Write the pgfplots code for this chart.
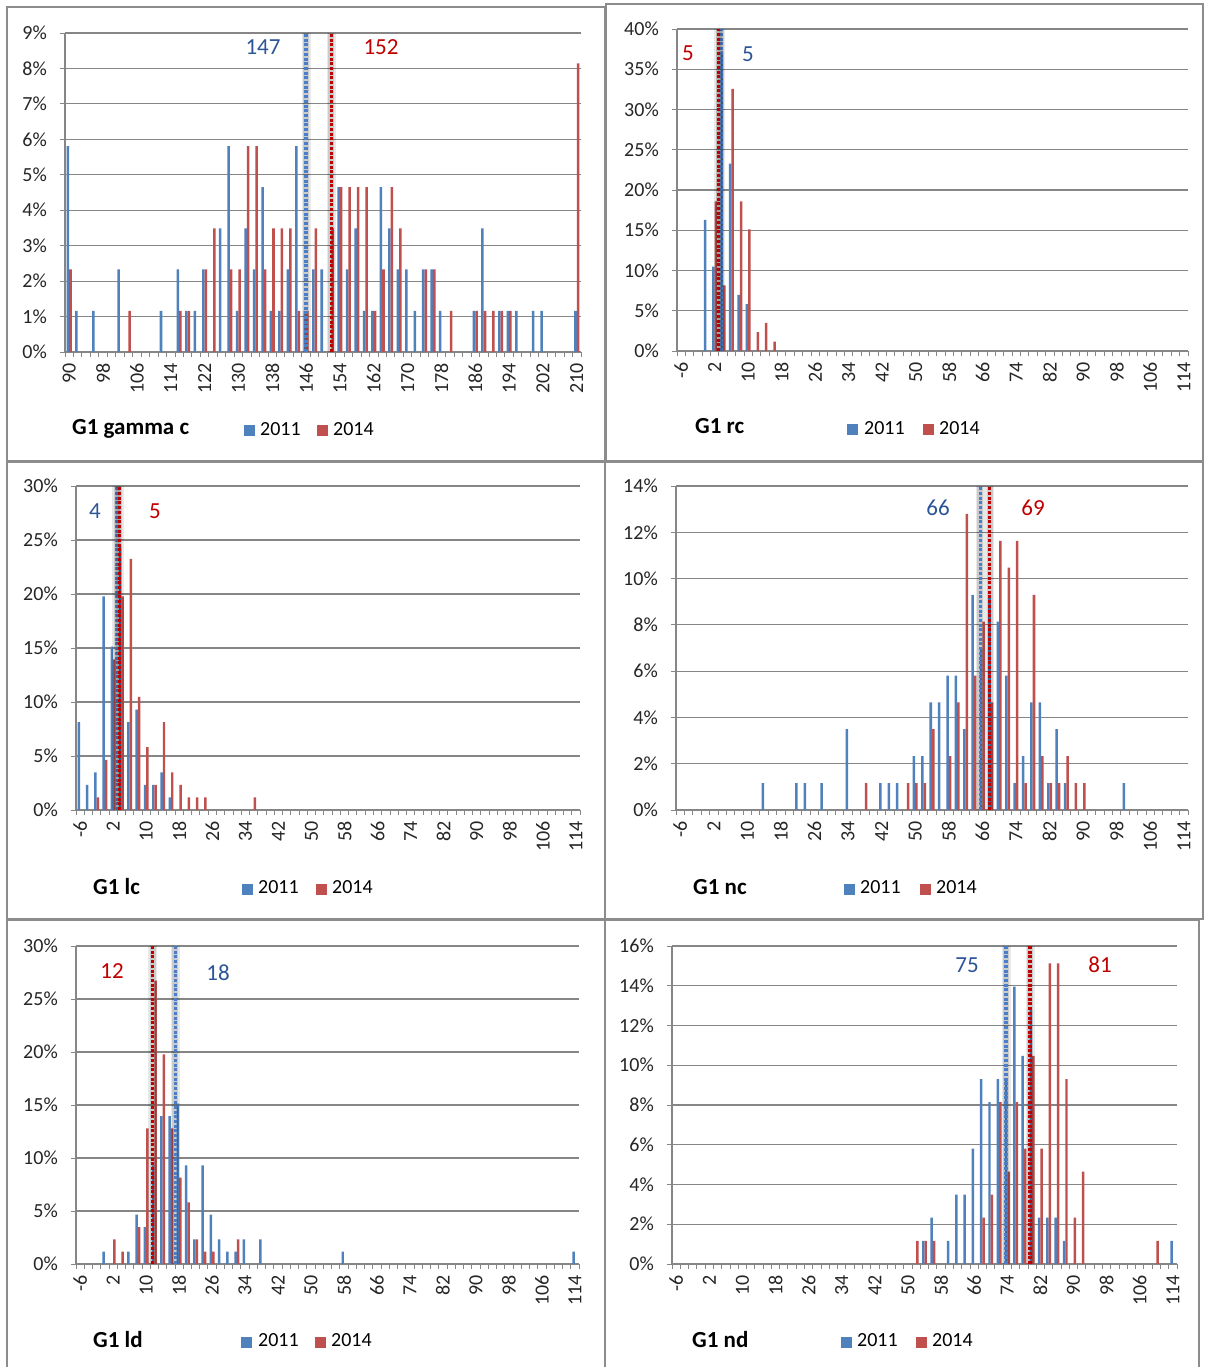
\documentclass[border=0pt]{standalone}
\usepackage{pgfplots}
\pgfplotsset{compat=1.18}
\usepackage{fontspec}
\setmainfont{Carlito}

\definecolor{s2011}{HTML}{4F81BD}
\definecolor{s2014}{HTML}{C0504D}
\definecolor{med2011}{HTML}{2C5597}
\definecolor{med2014}{HTML}{C00000}
\definecolor{dot2011}{HTML}{4A7EC8}
\definecolor{dot2014}{HTML}{C00000}
\definecolor{gridgrey}{HTML}{868686}
\definecolor{framegrey}{HTML}{8C8C8C}
\definecolor{labeltext}{HTML}{262626}

\newcommand\tickfont{\fontsize{20}{24}\selectfont}
\newcommand\titlefont{\fontsize{23}{27}\selectfont\bfseries}
\newcommand\medfont{\fontsize{23}{27}\selectfont}

\pgfplotsset{
  panel/.style={
    scale only axis,
    anchor=south west,
    axis x line*=bottom,
    axis y line*=left,
    axis line style={-, draw=gridgrey, line width=1.1pt},
    ymin=0,
    ymajorgrids,
    grid style={draw=gridgrey, line width=1.1pt},
    tick align=outside,
    major tick length=0pt,
    minor tick length=5pt,
    minor tick style={draw=gridgrey, line width=0.9pt},
    xticklabel style={rotate=90, anchor=east, inner sep=0pt, font=\tickfont, text=labeltext},
    yticklabel style={anchor=east, inner sep=0pt, font=\tickfont, text=labeltext},
    xticklabel shift=11pt,
    yticklabel shift=18pt,
    yticklabel={\pgfmathprintnumber{\tick}\%},
    /pgf/number format/assume math mode=true,
  },
  catx/.style={xmin=-7, xmax=115, xtick={-6,2,...,114}, minor xtick={-7,-5,...,115}},
  b11/.style={ybar, bar width=0.6, bar shift=-0.3, fill=s2011, draw=none},
  b14/.style={ybar, bar width=0.6, bar shift=0.3, fill=s2014, draw=none},
  medglow/.style={draw=black, opacity=0.09, line width=9pt},
  medglowin/.style={draw=black, opacity=0.12, line width=6pt},
  med11/.style={dot2011, line width=3.5pt, dash pattern=on 3pt off 1.7pt},
  med14/.style={dot2014, line width=3.5pt, dash pattern=on 3pt off 1.7pt},
}
% median marker: soft shadow under a dotted rule
\newcommand\medline[3]{%
  \addplot[medglow] coordinates {(#1,0) (#1,#2)};
  \addplot[medglowin] coordinates {(#1,0) (#1,#2)};
  \addplot[#3] coordinates {(#1,0) (#1,#2)};
}

\begin{document}
\begin{tikzpicture}[x=1pt,y=1pt]
\fill[white] (0,0) rectangle (1205,1367);

% chart frames
\begin{scope}[draw=framegrey, line width=2.5pt]
  \draw (7,1360) rectangle (605,906);
  \draw (606,1363) rectangle (1203,906);
  \draw (7,905) rectangle (605,448);
  \draw (605,905) rectangle (1203,448);
  \draw (7,447) rectangle (605,-5);
  \draw (605,447) rectangle (1199,-5);
\end{scope}

% ---------------- G1 gamma c ----------------
\begin{axis}[panel, at={(65pt,1015pt)}, width=516pt, height=319pt,
  xmin=89, xmax=211, xtick={90,98,...,210}, minor xtick={89,91,...,211},
  ymax=9, ytick={0,1,...,9}, minor ytick={0,1,...,9}]
\addplot[b11] coordinates {(90,5.81) (92,1.16) (96,1.16) (102,2.33) (112,1.16) (116,2.33) (118,1.16) (120,1.16) (122,2.33) (126,3.49) (128,5.81) (130,1.16) (132,3.49) (134,2.33) (136,4.65) (138,1.16) (140,1.16) (142,2.33) (144,5.81) (146,1.16) (148,2.33) (150,2.33) (154,4.65) (156,2.33) (158,3.49) (160,1.16) (162,1.16) (164,4.65) (166,3.49) (168,2.33) (170,2.33) (172,1.16) (174,2.33) (176,2.33) (178,1.16) (186,1.16) (188,3.49) (192,1.16) (194,1.16) (196,1.16) (200,1.16) (202,1.16) (210,1.16)};
\addplot[b14] coordinates {(90,2.33) (104,1.16) (116,1.16) (118,1.16) (122,2.33) (124,3.49) (128,2.33) (130,2.33) (132,5.81) (134,5.81) (136,2.33) (138,3.49) (140,3.49) (142,3.49) (144,1.16) (146,1.16) (148,3.49) (152,3.49) (154,4.65) (156,4.65) (158,4.65) (160,4.65) (162,1.16) (164,2.33) (166,4.65) (168,3.49) (174,2.33) (176,2.33) (180,1.16) (186,1.16) (188,1.16) (190,1.16) (192,1.16) (194,1.16) (210,8.14)};
\medline{146}{9}{med11}
\medline{152}{9}{med14}
\end{axis}
\node[font=\medfont, text=med2011] at (263,1320) {147};
\node[font=\medfont, text=med2014] at (381,1320) {152};
\node[anchor=base west, font=\titlefont, inner sep=0pt] at (72,932) {G1 gamma c};
\fill[s2011] (244,931) rectangle (255,942);
\node[anchor=base west, font=\tickfont, inner sep=0pt] at (260,931) {2011};
\fill[s2014] (317,931) rectangle (328,942);
\node[anchor=base west, font=\tickfont, inner sep=0pt] at (333,931) {2014};

% ---------------- G1 rc ----------------
\begin{axis}[panel, catx, at={(677pt,1016pt)}, width=511pt, height=322pt,
  ymax=40, ytick={0,5,...,40}, minor ytick={0,5,...,40}]
\addplot[b11] coordinates {(0,16.28) (2,10.47) (4,37.21) (6,23.26) (8,6.98) (10,5.81)};
\addplot[b14] coordinates {(2,18.60) (4,8.14) (6,32.56) (8,18.60) (10,15.12) (12,2.33) (14,3.49) (16,1.16)};
\medline{3.45}{40}{med11}
\medline{2.95}{40}{med14}
\end{axis}
\node[font=\medfont, text=med2014] at (688,1314) {5};
\node[font=\medfont, text=med2011] at (748,1313) {5};
\node[anchor=base west, font=\titlefont, inner sep=0pt] at (695,933) {G1 rc};
\fill[s2011] (847,932) rectangle (858,943);
\node[anchor=base west, font=\tickfont, inner sep=0pt] at (864,932) {2011};
\fill[s2014] (923,932) rectangle (934,943);
\node[anchor=base west, font=\tickfont, inner sep=0pt] at (939,932) {2014};

% ---------------- G1 lc ----------------
\begin{axis}[panel, catx, at={(76pt,557pt)}, width=504pt, height=324pt,
  ymax=30, ytick={0,5,...,30}, minor ytick={0,5,...,30}]
\addplot[b11] coordinates {(-6,8.14) (-4,2.33) (-2,3.49) (0,19.77) (2,15.12) (4,24.42) (6,8.14) (8,9.30) (10,2.33) (12,2.33) (14,3.49) (16,1.16)};
\addplot[b14] coordinates {(-2,1.16) (0,4.65) (2,13.95) (4,19.77) (6,23.26) (8,10.47) (10,5.81) (12,2.33) (14,8.14) (16,3.49) (18,2.33) (20,1.16) (22,1.16) (24,1.16) (36,1.16)};
\medline{2.85}{30}{med11}
\medline{3.5}{30}{med14}
\end{axis}
\node[font=\medfont, text=med2011] at (95,856) {4};
\node[font=\medfont, text=med2014] at (155,856) {5};
\node[anchor=base west, font=\titlefont, inner sep=0pt] at (93,472) {G1 lc};
\fill[s2011] (242,472) rectangle (253,483);
\node[anchor=base west, font=\tickfont, inner sep=0pt] at (258,473) {2011};
\fill[s2014] (316,472) rectangle (327,483);
\node[anchor=base west, font=\tickfont, inner sep=0pt] at (332,473) {2014};

% ---------------- G1 nc ----------------
\begin{axis}[panel, catx, at={(676pt,557pt)}, width=512pt, height=324pt,
  ymax=14, ytick={0,2,...,14}, minor ytick={0,2,...,14}]
\addplot[b11] coordinates {(14,1.16) (22,1.16) (24,1.16) (28,1.16) (34,3.49) (42,1.16) (44,1.16) (46,1.16) (50,2.33) (52,2.33) (54,4.65) (56,4.65) (58,5.81) (60,5.81) (62,3.49) (64,9.30) (66,6.98) (68,9.30) (70,8.14) (72,5.81) (74,1.16) (76,2.33) (78,4.65) (80,4.65) (82,1.16) (84,3.49) (86,1.16) (100,1.16)};
\addplot[b14] coordinates {(38,1.16) (48,1.16) (50,1.16) (52,1.16) (54,3.49) (58,2.33) (60,4.65) (62,12.79) (64,5.81) (66,8.14) (68,4.65) (70,11.63) (72,10.47) (74,11.63) (76,1.16) (78,9.30) (80,2.33) (82,1.16) (84,1.16) (86,2.33) (88,1.16) (90,1.16)};
\medline{65.5}{14}{med11}
\medline{67.7}{14}{med14}
\end{axis}
\node[font=\medfont, text=med2011] at (938,859) {66};
\node[font=\medfont, text=med2014] at (1033,859) {69};
\node[anchor=base west, font=\titlefont, inner sep=0pt] at (693,472) {G1 nc};
\fill[s2011] (844,472) rectangle (855,483);
\node[anchor=base west, font=\tickfont, inner sep=0pt] at (860,473) {2011};
\fill[s2014] (920,472) rectangle (931,483);
\node[anchor=base west, font=\tickfont, inner sep=0pt] at (936,473) {2014};

% ---------------- G1 ld ----------------
\begin{axis}[panel, catx, at={(76pt,103pt)}, width=503pt, height=318pt,
  ymax=30, ytick={0,5,...,30}, minor ytick={0,5,...,30}]
\addplot[b11] coordinates {(0,1.16) (6,1.16) (8,4.65) (10,3.49) (12,9.30) (14,13.95) (16,13.95) (18,15.12) (20,9.30) (22,2.33) (24,9.30) (26,4.65) (28,2.33) (30,1.16) (32,1.16) (34,2.33) (38,2.33) (58,1.16) (114,1.16)};
\addplot[b14] coordinates {(2,2.33) (4,1.16) (8,3.49) (10,12.79) (12,26.74) (14,19.77) (16,12.79) (18,8.14) (20,5.81) (22,2.33) (24,1.16) (26,1.16) (32,2.33)};
\medline{11.6}{30}{med14}
\medline{17.1}{30}{med11}
\end{axis}
\node[font=\medfont, text=med2014] at (112,396) {12};
\node[font=\medfont, text=med2011] at (218,394) {18};
\node[anchor=base west, font=\titlefont, inner sep=0pt] at (93,19) {G1 ld};
\fill[s2011] (241,19) rectangle (252,30);
\node[anchor=base west, font=\tickfont, inner sep=0pt] at (258,20) {2011};
\fill[s2014] (315,19) rectangle (326,30);
\node[anchor=base west, font=\tickfont, inner sep=0pt] at (331,20) {2014};

% ---------------- G1 nd ----------------
\begin{axis}[panel, catx, at={(672pt,103pt)}, width=505pt, height=318pt,
  ymax=16, ytick={0,2,...,16}, minor ytick={0,2,...,16}]
\addplot[b11] coordinates {(54,1.16) (56,2.33) (60,1.16) (62,3.49) (64,3.49) (66,5.81) (68,9.30) (70,8.14) (72,9.30) (74,9.30) (76,13.95) (78,10.47) (80,12.79) (82,2.33) (84,2.33) (86,2.33) (88,1.16) (114,1.16)};
\addplot[b14] coordinates {(52,1.16) (54,1.16) (56,1.16) (68,2.33) (70,3.49) (72,8.14) (74,4.65) (76,8.14) (78,5.81) (80,10.47) (82,5.81) (84,15.12) (86,15.12) (88,9.30) (90,2.33) (92,4.65) (110,1.16)};
\medline{73.7}{16}{med11}
\medline{79.5}{16}{med14}
\end{axis}
\node[font=\medfont, text=med2011] at (967,402) {75};
\node[font=\medfont, text=med2014] at (1100,402) {81};
\node[anchor=base west, font=\titlefont, inner sep=0pt] at (692,19) {G1 nd};
\fill[s2011] (841,19) rectangle (852,30);
\node[anchor=base west, font=\tickfont, inner sep=0pt] at (857,20) {2011};
\fill[s2014] (916,19) rectangle (927,30);
\node[anchor=base west, font=\tickfont, inner sep=0pt] at (932,20) {2014};

\pgfresetboundingbox
\useasboundingbox (0,0) rectangle (1205,1367);
\end{tikzpicture}
\end{document}
